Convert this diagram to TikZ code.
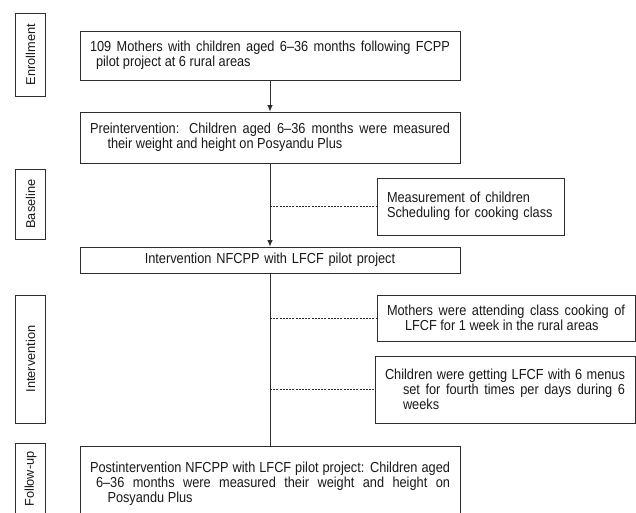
\documentclass[tikz,border=0pt]{standalone}
\usepackage{fontspec}
\setmainfont{Liberation Sans}
\newfontfamily\boxfont{Liberation Sans}[FakeStretch=0.88]
\usetikzlibrary{arrows.meta}
\definecolor{line-color}{RGB}{45,45,45}
\definecolor{text-color}{RGB}{25,25,25}
\tikzset{
	flow-box/.style={draw=line-color, line width=0.8pt, text=text-color, inner sep=0pt, inner xsep=10pt,
		font=\boxfont\fontsize{14.5}{15}\selectfont, execute at begin node={\parindent=0pt}},
	stage-box/.style={draw=line-color, line width=0.8pt, text=text-color, rotate=90, inner sep=0pt,
		minimum height=30pt, font=\fontsize{12.8}{15}\selectfont},
	arrow-line/.style={draw=line-color, line width=0.8pt, -{Latex[length=6.5pt,width=5.5pt]}},
	plain-line/.style={draw=line-color, line width=0.8pt},
	dash-line/.style={draw=line-color, line width=0.7pt, dash pattern=on 2pt off 1.2pt}
}

\begin{document}
\begin{tikzpicture}[x=1pt, y=-1pt]
	\useasboundingbox (0,0) rectangle (636,512);
	\clip (0,0) rectangle (636,512);

	\node[stage-box, minimum width=83pt] (enroll-label) at (30.5,54.5) {Enrollment};
	\node[stage-box, minimum width=70pt] (baseline-label) at (30.5,204) {Baseline};
	\node[stage-box, minimum width=128pt] (interv-label) at (30.5,359) {Intervention};
	\node[stage-box, minimum width=72pt] (follow-label) at (30.5,479) {Follow-up};

	\node[flow-box, text width=360pt, align=justify, minimum height=49pt] (enroll-box) at (270,55.5)
		{\parshape 2 0pt 360pt 6pt 354pt\relax 109 Mothers with children aged 6–36 months following FCPP\linebreak pilot project at 6 rural areas\par};
	\node[flow-box, text width=360pt, align=justify, minimum height=51pt] (pre-box) at (270,137.5)
		{\parshape 2 0pt 360pt 17.5pt 342.5pt\relax Preintervention: Children aged 6–36 months were measured\linebreak their weight and height on Posyandu Plus\par};
	\node[flow-box, text width=360pt, align=center, minimum height=26pt] (interv-box) at (270,260)
		{Intervention NFCPP with LFCF pilot project};
	\node[flow-box, text width=360pt, align=justify, minimum height=76pt] (post-box) at (270,484)
		{\parshape 3 0pt 360pt 6pt 354pt 17.5pt 342.5pt\relax Postintervention NFCPP with LFCF pilot project: Children aged\linebreak 6–36 months were measured their weight and height on\linebreak Posyandu Plus\par};

	\node[flow-box, text width=167pt, align=left, minimum height=57pt] (measure-box) at (470.5,206.5)
		{Measurement of children\\Scheduling for cooking class};
	\node[flow-box, text width=238pt, align=justify, minimum height=46pt] (class-box) at (506,318)
		{\parshape 2 0pt 238pt 18pt 220pt\relax Mothers were attending class cooking of\linebreak LFCF for 1 week in the rural areas\par};
	\node[flow-box, text width=240pt, align=justify, minimum height=67pt] (menu-box) at (505,389.5)
		{\parshape 3 0pt 240pt 18pt 222pt 18pt 222pt\relax Children were getting LFCF with 6 menus\linebreak set for fourth times per days during 6\linebreak weeks\par};

	\draw[arrow-line] (enroll-box) -- (pre-box);
	\draw[arrow-line] (pre-box) -- (interv-box);
	\draw[plain-line] (interv-box) -- (post-box);
	\draw[dash-line] (pre-box.south |- measure-box.west) -- (measure-box.west);
	\draw[dash-line] (interv-box.south |- class-box.west) -- (class-box.west);
	\draw[dash-line] (interv-box.south |- menu-box.west) -- (menu-box.west);
\end{tikzpicture}
\end{document}
